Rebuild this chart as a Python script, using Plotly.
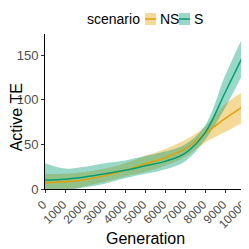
import plotly.graph_objects as go

generation = [0, 1000, 2000, 3000, 4000, 5000, 6000, 7000, 8000, 9000, 10000]

ns_mean = [7, 8, 10.5, 15, 21, 28, 35, 45, 62, 79, 94]
ns_low = [-3, -1, 3, 8, 14, 19, 26, 36, 52, 64, 76]
ns_high = [17, 17, 19, 23, 29, 37, 45, 55, 70, 95, 111]

s_mean = [10, 11, 13.5, 17, 21, 26, 31, 40, 63, 108, 154]
s_low = [-8, -2, 2, 6, 12, 17, 22, 31, 55, 91, 134]
s_high = [29, 23, 25, 29, 32, 37, 42, 50, 71, 127, 176]

scenarios = [
    ("NS", ns_mean, ns_low, ns_high, "#E69F00", "rgba(230,159,0,0.4)"),
    ("S", s_mean, s_low, s_high, "#009E73", "rgba(0,158,115,0.4)"),
]

fig = go.Figure()
for name, m, lo, hi, col, fillc in scenarios:
    fig.add_trace(go.Scatter(x=generation, y=lo, mode="lines", line=dict(width=0, shape="spline"),
                             showlegend=False, hoverinfo="skip"))
    fig.add_trace(go.Scatter(x=generation, y=hi, mode="lines", line=dict(width=0, shape="spline"),
                             fill="tonexty", fillcolor=fillc, showlegend=False, hoverinfo="skip"))
for name, m, lo, hi, col, fillc in scenarios:
    fig.add_trace(go.Scatter(x=generation, y=m, mode="lines", name=name,
                             line=dict(color=col, width=1.5, shape="spline"), showlegend=False))

# manual legend (ggplot style, top)
fig.add_annotation(text="scenario", x=0.487, y=1.097, xref="paper", yref="paper",
                   xanchor="right", yanchor="middle", showarrow=False, font=dict(size=14, color="black"))
key_x = [0.50, 0.67]
for (name, m, lo, hi, col, fillc), kx in zip(scenarios, key_x):
    fig.add_shape(type="rect", xref="paper", yref="paper", x0=kx, x1=kx + 0.055, y0=1.058, y1=1.135,
                  fillcolor=fillc, line=dict(width=0))
    fig.add_shape(type="line", xref="paper", yref="paper", x0=kx, x1=kx + 0.055, y0=1.0965, y1=1.0965,
                  line=dict(color=col, width=1.5))
    fig.add_annotation(text=name, x=kx + 0.063, y=1.097, xref="paper", yref="paper",
                       xanchor="left", yanchor="middle", showarrow=False, font=dict(size=14, color="black"))

# axis titles
fig.add_annotation(text="Active TE", x=-0.138, y=0.465, xref="paper", yref="paper",
                   xanchor="center", yanchor="middle", textangle=-90, showarrow=False,
                   font=dict(size=16, color="black"))
fig.add_annotation(text="Generation", x=0.5, y=-0.32, xref="paper", yref="paper",
                   xanchor="center", yanchor="middle", showarrow=False,
                   font=dict(size=16, color="black"))

fig.update_layout(
    width=241, height=241,
    margin=dict(l=37, r=4, t=26, b=60, autoexpand=False),
    paper_bgcolor="white", plot_bgcolor="white",
    font=dict(family="Liberation Sans, Arial, sans-serif", size=12, color="black"),
    showlegend=False,
)
fig.update_xaxes(range=[0, 10000], tickvals=generation, ticktext=[str(g) for g in generation],
                 tickangle=-45, showline=True, linecolor="black", linewidth=1, ticks="outside",
                 ticklen=3, tickcolor="#333333", showgrid=False, zeroline=False,
                 automargin=False, ticklabeloverflow="allow", ticklabelshift=-2,
                 tickfont=dict(size=12, color="#4D4D4D"))
fig.update_yaxes(range=[0, 174], tickvals=[0, 50, 100, 150], showline=True, linecolor="black", linewidth=1,
                 ticks="outside", ticklen=3, tickcolor="#333333", showgrid=False, zeroline=False,
                 automargin=False,
                 tickfont=dict(size=13, color="#4D4D4D"))

fig.write_html("out.html")
